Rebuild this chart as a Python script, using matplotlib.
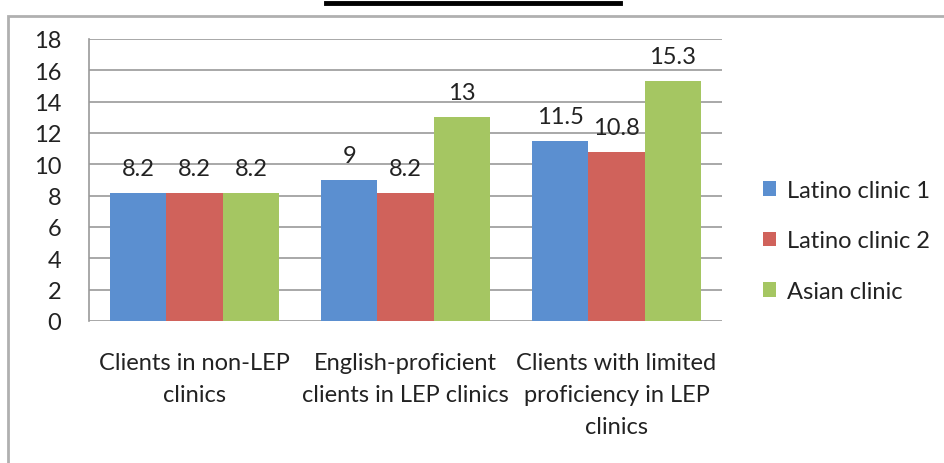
import matplotlib.pyplot as plt
import numpy as np
from matplotlib.patches import Rectangle
from matplotlib.lines import Line2D

plt.rcParams['font.family'] = ['Lato', 'DejaVu Sans']

groups = ["Clients in non-LEP\nclinics",
          "English-proficient\nclients in LEP clinics",
          "Clients with limited\nproficiency in LEP\nclinics"]
series_names = ["Latino clinic 1", "Latino clinic 2", "Asian clinic"]
latino1 = [8.2, 9, 11.5]
latino2 = [8.2, 8.2, 10.8]
asian = [8.2, 13, 15.3]
value_labels = [["8.2", "9", "11.5"], ["8.2", "8.2", "10.8"], ["8.2", "13", "15.3"]]
colors = ["#5b8fd0", "#d0625b", "#a5c662"]
fs = 17

fig = plt.figure(figsize=(9.45, 4.64), dpi=100)
ax = fig.add_axes([89 / 945, 1 - 322 / 464, (722 - 89) / 945, (322 - 40) / 464])

x = np.arange(len(groups))
w = 0.267
for i, (vals, lab) in enumerate(zip([latino1, latino2, asian], series_names)):
    pos = x + (i - 1) * w
    bars = ax.bar(pos, vals, width=w, color=colors[i], label=lab, zorder=3)
    for b, v, t in zip(bars, vals, value_labels[i]):
        ax.annotate(t, (b.get_x() + b.get_width() / 2, v), xytext=(0, 10),
                    textcoords="offset points", ha="center", va="bottom",
                    fontsize=fs, color="#222222")

ax.set_xlim(-0.5, 2.5)
ax.set_ylim(0, 18)
ax.set_yticks(range(0, 19, 2))
ax.yaxis.grid(True, color="#9a9a9a", linewidth=1.2, zorder=0)
ax.set_axisbelow(True)
ax.tick_params(axis="y", length=0, labelsize=fs, pad=20, labelcolor="#222222")
ax.tick_params(axis="x", length=0, labelsize=fs, pad=22, labelcolor="#222222")
ax.set_xticks(x)
ax.set_xticklabels(groups, linespacing=1.65)
for s in ["top", "right", "bottom"]:
    ax.spines[s].set_visible(False)
ax.spines["left"].set_color("#9a9a9a")
ax.spines["left"].set_linewidth(1.2)

ax.legend(loc="center left", bbox_to_anchor=(1.046, 0.284), frameon=False,
          fontsize=fs, handlelength=0.55, handleheight=0.55, handletextpad=0.45,
          labelspacing=1.25, labelcolor="#222222", borderpad=0)

# outer frame and the clipped title underline
fig.patches.append(Rectangle((8 / 945, -0.1), 1.2, 1 - 17 / 464 + 0.1,
                             transform=fig.transFigure, fill=False,
                             edgecolor="#b0b0b0", linewidth=2))
fig.lines.append(Line2D([326 / 945, 620 / 945], [1 - 4 / 464, 1 - 4 / 464],
                        transform=fig.transFigure, color="black", linewidth=3.5))

fig.savefig("out.png", dpi=100)
